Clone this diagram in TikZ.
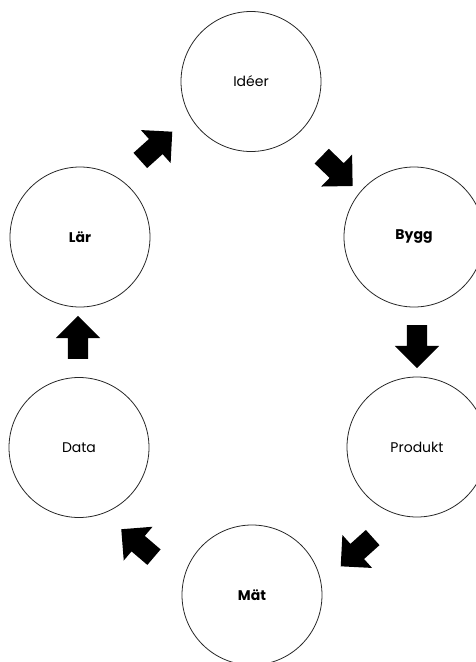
\documentclass[tikz,border=0pt]{standalone}
\usepackage{fontspec}
\setmainfont{Poppins}
\usetikzlibrary{shapes.arrows}
\begin{document}
\begin{tikzpicture}[x=1pt,y=-1pt,
  stage/.style={circle,draw=black!85,line width=0.8pt,minimum size=140pt,inner sep=0pt,font=\fontsize{14}{16}\selectfont},
  boldstage/.style={stage,font=\fontsize{14}{16}\selectfont\bfseries},
  blockarrow/.style={single arrow,fill=black,draw=none,inner xsep=0pt,inner ysep=10pt,minimum height=43pt,minimum width=44pt,single arrow head extend=12pt,single arrow tip angle=90}]
\useasboundingbox (0,0) rectangle (476,662);
\clip (0,0) rectangle (476,662);
\node[stage] (ideer) at (251,81.5) {Idéer};
\node[boldstage] (bygg) at (414,237) {Bygg};
\node[stage] (produkt) at (417,447) {Produkt};
\node[boldstage] (mat) at (252,595) {Mät};
\node[stage] (data) at (79,447.5) {Data};
\node[boldstage] (lar) at (80,237) {Lär};
\node[blockarrow,rotate=42] (a1) at (152.5,149.5) {};
\node[blockarrow,rotate=-44] (a2) at (333.5,167.5) {};
\node[blockarrow,rotate=-90] (a3) at (417,341.5) {};
\node[blockarrow,rotate=-138] (a4) at (360.5,548.5) {};
\node[blockarrow,rotate=139.5] (a5) at (141.5,546.5) {};
\node[blockarrow,rotate=90] (a6) at (78,342.5) {};
\end{tikzpicture}
\end{document}
